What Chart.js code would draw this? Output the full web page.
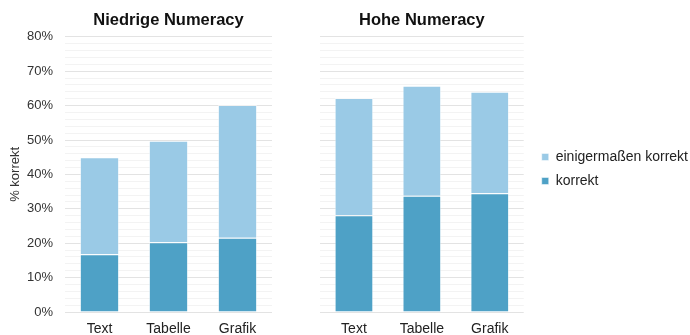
<!DOCTYPE html>
<html>
<head>
<meta charset="utf-8">
<script src="https://cdn.jsdelivr.net/npm/chart.js@4/dist/chart.umd.min.js"></script>
<style>
  html, body { margin: 0; padding: 0; background: #fff; }
  #wrap { position: relative; width: 690px; height: 335px; }
  #left { position: absolute; left: 0; top: 0; }
  #right { position: absolute; left: 290px; top: 0; }
</style>
</head>
<body>
<div id="wrap">
  <canvas id="left" width="290" height="335"></canvas>
  <canvas id="right" width="400" height="335"></canvas>
</div>
<script>
(() => {
  'use strict'

  // Data (percent)
  const categories = ['Text', 'Tabelle', 'Grafik']
  const seriesNames = ['korrekt', 'einigermaßen korrekt']
  const lowKorrekt = [16.8, 20.3, 21.6]
  const lowEinigermassen = [28.2, 29.5, 38.6]
  const highKorrekt = [28.1, 33.8, 34.5]
  const highEinigermassen = [34.1, 32.0, 29.5]
  const yTickValues = [0, 10, 20, 30, 40, 50, 60, 70, 80]

  const darkBlue = '#4ea1c6'
  const lightBlue = '#9acae6'
  const font = 'Liberation Sans, Arial, sans-serif'

  Chart.defaults.font.family = font
  Chart.defaults.color = '#333'
  Chart.defaults.animation = false

  function datasets (korrekt, einig) {
    return [
      { label: seriesNames[0], data: korrekt, backgroundColor: darkBlue,
        borderColor: 'rgba(255,255,255,0.5)', borderWidth: 1 },
      { label: seriesNames[1], data: einig, backgroundColor: lightBlue,
        borderColor: 'rgba(255,255,255,0.5)', borderWidth: 1 }
    ]
  }

  function yScale (showLabels) {
    return {
      stacked: true,
      min: 0,
      max: 80,
      border: { display: false },
      grid: {
        drawTicks: false,
        color: c => (c.tick && c.tick.value % 10 === 0) ? '#e3e3e3' : '#f3f3f3'
      },
      ticks: {
        display: showLabels,
        stepSize: 2,
        autoSkip: false,
        padding: 12,
        font: { size: 13 },
        color: '#333',
        callback: v => yTickValues.includes(v) ? v + '%' : ''
      },
      title: {
        display: showLabels,
        text: '% korrekt',
        font: { size: 13 },
        color: '#333',
        padding: { top: 0, bottom: 0 }
      },
      // axis width like the original (title + labels + gap)
      afterFit: s => { if (showLabels) s.width = 57 }
    }
  }

  function xScale () {
    return {
      stacked: true,
      grid: { display: false, drawTicks: false },
      border: { display: false },
      ticks: { font: { size: 14 }, color: '#222', padding: 9 },
      afterFit: s => { s.height = 23 }
    }
  }

  // nudge the legend a little further from the plot
  const legendShift = {
    id: 'legendShift',
    afterLayout (chart) {
      const lg = chart.legend
      if (!lg || !lg.options.display) return
      lg.left += 8
      lg.right += 8
      lg.top -= 4
      lg.bottom -= 4
    }
  }

  function options (title, showY, showLegend, padding) {
    return {
      responsive: false,
      layout: { padding: padding },
      datasets: { bar: { barPercentage: 0.57, categoryPercentage: 1 } },
      scales: { x: xScale(), y: yScale(showY) },
      plugins: {
        title: {
          display: true,
          text: title,
          fullSize: false,
          color: '#111',
          font: { size: 16.5, weight: 'bold' },
          padding: { top: 0, bottom: 6 }
        },
        legend: {
          display: showLegend,
          position: 'right',
          reverse: true,
          maxWidth: 190,
          labels: {
            boxWidth: 7,
            boxHeight: 7,
            padding: 10,
            font: { size: 14 },
            color: '#222'
          }
        },
        tooltip: { enabled: false }
      }
    }
  }

  // eslint-disable-next-line no-unused-vars
  const leftChart = new Chart(document.getElementById('left'), {
    type: 'bar',
    data: { labels: categories, datasets: datasets(lowKorrekt, lowEinigermassen) },
    options: options('Niedrige Numeracy', true, false, { left: 8, right: 18, top: 11, bottom: 0 })
  })

  // eslint-disable-next-line no-unused-vars
  const rightChart = new Chart(document.getElementById('right'), {
    type: 'bar',
    data: { labels: categories, datasets: datasets(highKorrekt, highEinigermassen) },
    options: options('Hohe Numeracy', false, true, { left: 30, right: 0, top: 11, bottom: 0 }),
    plugins: [legendShift]
  })
})()
</script>
</body>
</html>
